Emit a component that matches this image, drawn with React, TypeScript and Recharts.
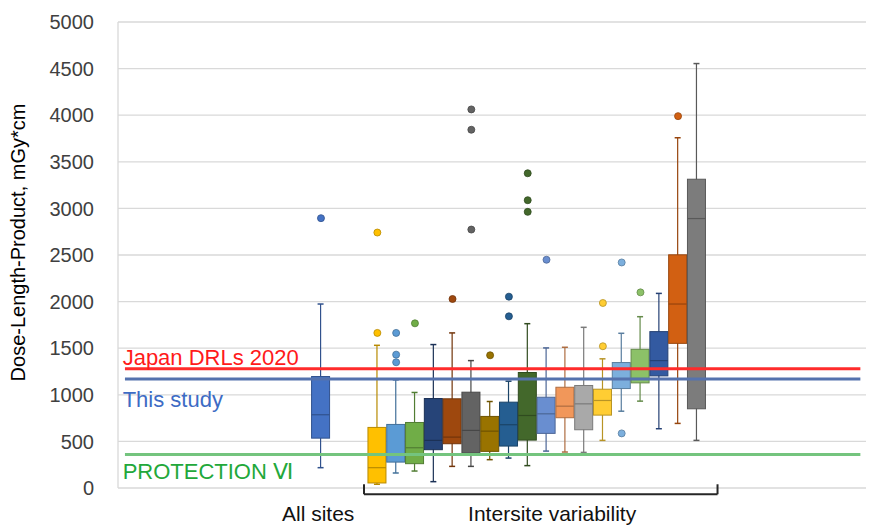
import React from 'react';
import {
  ComposedChart,
  Bar,
  Scatter,
  XAxis,
  YAxis,
  CartesianGrid,
  ReferenceLine,
} from 'recharts';

const FONT = '"Liberation Sans", Arial, Helvetica, sans-serif';

// ---- data ----
const boxLabels = [
  'All sites',
  'Site 1', 'Site 2', 'Site 3', 'Site 4', 'Site 5', 'Site 6', 'Site 7', 'Site 8', 'Site 9',
  'Site 10', 'Site 11', 'Site 12', 'Site 13', 'Site 14', 'Site 15', 'Site 16', 'Site 17', 'Site 18',
];
const boxPositions = [1, 4, 5, 6, 7, 8, 9, 10, 11, 12, 13, 14, 15, 16, 17, 18, 19, 20, 21];
const whiskerLow = [218, 40, 161, 182, 68, 232, 232, 304, 321, 240, 396, 386, 382, 511, 824, 932, 636, 693, 511];
const q1Values = [535, 54, 278, 261, 411, 475, 375, 393, 450, 514, 586, 754, 625, 782, 1067, 1128, 1203, 1552, 850];
const medianValues = [786, 218, 365, 432, 511, 546, 618, 610, 679, 778, 796, 878, 903, 939, 1170, 1175, 1367, 1974, 2891];
const q3Values = [1196, 650, 682, 703, 960, 957, 1028, 768, 921, 1239, 974, 1081, 1100, 1060, 1346, 1488, 1678, 2502, 3313];
const whiskerHigh = [1974, 1531, 1160, 1025, 1539, 1664, 1367, 928, 1146, 1763, 1503, 1510, 1724, 1386, 1660, 1838, 2088, 3758, 4554];
const outlierValues: number[][] = [
  [2895], [2741, 1664], [1664, 1431, 1349], [1767], [], [2028], [4062, 3844, 2773], [1424],
  [2053, 1842], [3377, 3088, 2963], [2449], [], [], [1985, 1521], [2420, 586], [2099], [], [3990], [],
];
const boxColors = [
  '#4472C4', '#FFC000', '#5B9BD5', '#70AD47', '#264478', '#9E480E', '#636363', '#997300', '#255E91',
  '#43682B', '#698ED0', '#F1975A', '#A9A9A9', '#FFCD33', '#7CAFDD', '#8CC168', '#335AA1', '#D26012', '#7C7C7C',
];

const yTicks = [0, 500, 1000, 1500, 2000, 2500, 3000, 3500, 4000, 4500, 5000];
const xTickPositions = [0.85, 13.3];
const xTickLabels = ['All sites', 'Intersite variability'];

const refLines = [
  { name: 'Japan DRLs 2020', value: 1280, color: '#FF2B2B', text: '#FF1A1A', dy: -3.5 },
  { name: 'This study', value: 1170, color: '#5572AE', text: '#3D6BC4', dy: 28.5 },
  { name: 'PROTECTION Ⅵ', value: 360, color: '#74C47E', text: '#22A83A', dy: 25 },
];
const refLineStart = -9.43;
const refLineEnd = 29.7;

// bracket under the intersite boxes (data units)
const bracketLeft = 3.29;
const bracketRight = 22.1;
const bracketTop = 40;
const bracketBottom = -67;

// ---- helpers ----
const darken = (hex: string, f = 0.72) => {
  const n = parseInt(hex.slice(1), 16);
  const r = Math.round(((n >> 16) & 255) * f);
  const g = Math.round(((n >> 8) & 255) * f);
  const b = Math.round((n & 255) * f);
  return `rgb(${r},${g},${b})`;
};

const boxData = boxLabels.map((name, i) => ({
  name,
  p: boxPositions[i],
  range: [whiskerLow[i], whiskerHigh[i]],
  lo: whiskerLow[i],
  hi: whiskerHigh[i],
  q1: q1Values[i],
  med: medianValues[i],
  q3: q3Values[i],
  color: boxColors[i],
}));

const outlierData = outlierValues.flatMap((vals, i) =>
  vals.map((v) => ({ p: boxPositions[i], v, color: boxColors[i] }))
);

const BoxShape = (props: any) => {
  const { x, y, width, height, payload } = props;
  if (!payload) return null;
  const top = Math.min(y, y + height);
  const h = Math.abs(height);
  const { lo, hi, q1, med, q3, color } = payload;
  const py = (v: number) => top + ((hi - v) / (hi - lo)) * h;
  const cx = x + width / 2;
  const stroke = darken(color);
  const cap = 3;
  return (
    <g>
      <line x1={cx} x2={cx} y1={py(hi)} y2={py(lo)} stroke={stroke} strokeWidth={1.2} />
      <line x1={cx - cap} x2={cx + cap} y1={py(hi)} y2={py(hi)} stroke={stroke} strokeWidth={1.5} />
      <line x1={cx - cap} x2={cx + cap} y1={py(lo)} y2={py(lo)} stroke={stroke} strokeWidth={1.5} />
      <rect x={x} y={py(q3)} width={width} height={py(q1) - py(q3)} fill={color} stroke={stroke} strokeWidth={1} />
      <line x1={x} x2={x + width} y1={py(med)} y2={py(med)} stroke={stroke} strokeWidth={1.2} />
    </g>
  );
};

const OutlierShape = (props: any) => {
  const { cx, cy, payload } = props;
  if (cx == null || cy == null) return null;
  return <circle cx={cx} cy={cy} r={3.5} fill={payload.color} stroke={darken(payload.color)} strokeWidth={0.8} />;
};

const YTitle = (props: any) => {
  const vb = props.viewBox || { x: 0, y: 22, width: 118, height: 466 };
  const cx = 25;
  const cy = vb.y + vb.height / 2 - 12.5;
  return (
    <text
      x={cx}
      y={cy}
      transform={`rotate(-90, ${cx}, ${cy})`}
      textAnchor="middle"
      fill="#000"
      fontSize={20}
      fontFamily={FONT}
    >
      Dose-Length-Product, mGy*cm
    </text>
  );
};

const makeRefLabel = (text: string, color: string, dy: number) => (props: any) => {
  const vb = props.viewBox || { x: 0, y: 0 };
  return (
    <text x={vb.x - 2.3} y={vb.y + dy} fill={color} fontSize={22} fontFamily={FONT}>
      {text}
    </text>
  );
};

export default function App() {
  return (
    <div style={{ position: 'fixed', left: 0, top: 0, width: 893, height: 527, background: '#fff' }}>
      <ComposedChart
        width={893}
        height={527}
        data={boxData}
        margin={{ top: 22, right: 27, bottom: 0, left: 0 }}
        style={{ fontFamily: FONT }}
      >
        <CartesianGrid vertical={false} stroke="#D9D9D9" strokeWidth={1.3} />
        <XAxis
          type="number"
          dataKey="p"
          domain={[-9.8, 30]}
          allowDataOverflow
          ticks={xTickPositions}
          interval={0}
          tickFormatter={(_v: any, i: number) => xTickLabels[i]}
          tickLine={false}
          axisLine={false}
          tickSize={0}
          tickMargin={18}
          height={39}
          tick={{ fontSize: 21, fill: '#111', fontFamily: FONT }}
        />
        <YAxis
          type="number"
          domain={[0, 5000]}
          ticks={yTicks}
          interval={0}
          width={118}
          tickLine={false}
          tickSize={0}
          tickMargin={24}
          axisLine={{ stroke: '#D9D9D9', strokeWidth: 1.3 }}
          tick={{ fontSize: 20, fill: '#404040', fontFamily: FONT }}
          label={YTitle}
        />
        <Bar dataKey="range" barSize={18} shape={BoxShape} isAnimationActive={false} />
        <Scatter data={outlierData} dataKey="v" shape={OutlierShape} isAnimationActive={false} />
        {refLines.map((r) => (
          <ReferenceLine
            key={r.name}
            segment={[
              { x: refLineStart, y: r.value },
              { x: refLineEnd, y: r.value },
            ]}
            stroke={r.color}
            strokeWidth={3}
            ifOverflow="visible"
            label={makeRefLabel(r.name, r.text, r.dy)}
          />
        ))}
        <ReferenceLine
          segment={[
            { x: bracketLeft, y: bracketTop },
            { x: bracketLeft, y: bracketBottom },
          ]}
          stroke="#262626"
          strokeWidth={2}
          ifOverflow="visible"
        />
        <ReferenceLine
          segment={[
            { x: bracketLeft, y: bracketBottom },
            { x: bracketRight, y: bracketBottom },
          ]}
          stroke="#262626"
          strokeWidth={2}
          ifOverflow="visible"
        />
        <ReferenceLine
          segment={[
            { x: bracketRight, y: bracketBottom },
            { x: bracketRight, y: bracketTop },
          ]}
          stroke="#262626"
          strokeWidth={2}
          ifOverflow="visible"
        />
      </ComposedChart>
    </div>
  );
}
